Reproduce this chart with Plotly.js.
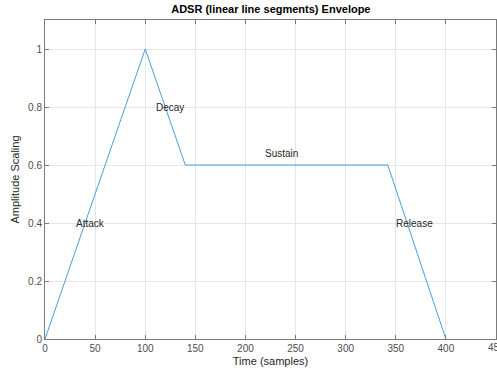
<!DOCTYPE html>
<html><head><meta charset="utf-8">
<script src="https://cdn.plot.ly/plotly-3.0.1.min.js"></script>
<style>html,body{margin:0;padding:0;background:#fff}</style>
</head><body>
<div id="chart" style="width:497px;height:371px"></div>
<script>
const timeSamples = [0, 100, 140, 342, 400];
const amplitude = [0, 1, 0.6, 0.6, 0];
const labelText = ["Attack", "Decay", "Sustain", "Release"];
const labelX = [29, 109, 218, 348];
const labelY = [0.4, 0.8, 0.64, 0.4];
const xTicks = [0, 50, 100, 150, 200, 250, 300, 350, 400, 450];
const yTicks = [0, 0.2, 0.4, 0.6, 0.8, 1];

const font = "Liberation Sans, Arial, Helvetica, sans-serif";
const tickFont = {family: font, size: 10, color: '#4d4d4d'};
const data = [{
  x: timeSamples, y: amplitude, type: 'scatter', mode: 'lines',
  line: {color: '#4a9cdb', width: 1}, hoverinfo: 'none'
}];
const annotations = labelText.map((t, i) => ({
  x: labelX[i], y: labelY[i], xref: 'x', yref: 'y', text: t,
  showarrow: false, xanchor: 'left', yanchor: 'middle',
  font: {family: font, size: 10, color: '#262626'}
}));
// last x tick label (clipped at the page edge, as in the reference)
const lastTick = xTicks[xTicks.length - 1];
annotations.push({
  x: lastTick, y: 0, xref: 'x', yref: 'paper', text: String(lastTick),
  showarrow: false, xanchor: 'center', yanchor: 'top', yshift: -1,
  font: tickFont
});
const axisCommon = {
  showline: true, linecolor: '#7a7a7a', linewidth: 1, mirror: 'ticks',
  ticks: 'inside', ticklen: 4, tickcolor: '#7a7a7a',
  showgrid: true, gridcolor: '#e6e6e6', gridwidth: 1, zeroline: false,
  tickfont: tickFont
};
const layout = {
  width: 497, height: 371,
  margin: {l: 45, r: 1, t: 20, b: 32},
  paper_bgcolor: '#fff', plot_bgcolor: '#fff',
  showlegend: false,
  title: {text: '<b>ADSR (linear line segments) Envelope</b>', font: {family: font, size: 11, color: '#000'}, x: 0.545, xanchor: 'center', y: 0.985, yanchor: 'top'},
  xaxis: Object.assign({}, axisCommon, {
    range: [0, 450], tickvals: xTicks, ticktext: xTicks.map(String),
    title: {text: 'Time (samples)', font: {family: font, size: 11, color: '#262626'}, standoff: 4}
  }),
  yaxis: Object.assign({}, axisCommon, {
    range: [0, 1.1], tickvals: yTicks, ticktext: yTicks.map(String),
    title: {text: 'Amplitude Scaling', font: {family: font, size: 11, color: '#262626'}, standoff: 6}
  }),
  annotations: annotations
};
Plotly.newPlot('chart', data, layout, {displayModeBar: false, staticPlot: true});
</script>
</body></html>
